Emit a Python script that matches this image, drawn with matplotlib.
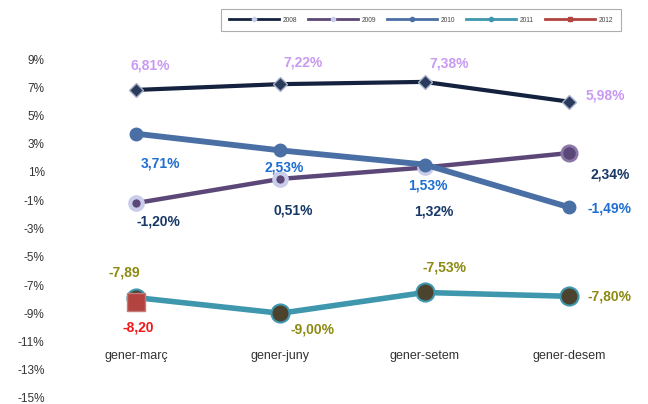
import matplotlib
matplotlib.use("Agg")
import matplotlib.pyplot as plt
from matplotlib.lines import Line2D

plt.rcParams['font.family'] = ['Liberation Sans', 'DejaVu Sans']

categories = ["gener-març", "gener-juny", "gener-setem", "gener-desem"]
s2008 = [6.81, 7.22, 7.38, 5.98]
s2009 = [-1.20, 0.51, 1.32, 2.34]
s2010 = [3.71, 2.53, 1.53, -1.49]
s2011 = [-7.89, -9.00, -7.53, -7.80]
s2012 = [-8.20]
yticks = [9, 7, 5, 3, 1, -1, -3, -5, -7, -9, -11, -13, -15]

fig = plt.figure(figsize=(6.48, 4.04), dpi=100)
ax = fig.add_axes([64/648, 1-398/404, 577/648, (398-59)/404])
ax.set_xlim(-0.5, 3.5)
ax.set_ylim(-15, 9)
for s in ax.spines.values():
    s.set_visible(False)
ax.set_xticks([])
ax.set_yticks(yticks)
ax.set_yticklabels([f"{v}%" for v in yticks], fontsize=8.5, color="#333333")
ax.tick_params(axis='y', length=0, pad=14)

x = list(range(len(categories)))

c08 = "#14223f"; c09 = "#5c4878"; c10 = "#4a6fa5"; c11 = "#3e97ad"; c12 = "#b3433f"

ax.plot(x, s2009, color=c09, lw=3.2, zorder=3)
ax.plot(x[:3], s2009[:3], 'o', color=c09, mec="#c9cdea", mew=3, ms=9, zorder=3.5)
ax.plot(x[3:], s2009[3:], 'o', color=c09, mec="#8a77a5", mew=2, ms=11, zorder=3.5)
ax.plot(x, s2010, color=c10, lw=4.2, zorder=4)
ax.plot(x, s2010, 'o', color=c10, ms=9, zorder=4.5)
ax.plot(x, s2008, color=c08, lw=3, zorder=3)
ax.plot(x, s2008, 'D', color="#2a3b5c", mec="#a6b0c8", mew=1, ms=7, zorder=4)
ax.plot(x, s2011, color=c11, lw=4, zorder=3)
ax.plot(x, s2011, 'o', color="#4c432e", mec=c11, mew=1.5, ms=13, zorder=4)
ax.plot(x[:1], s2012, 's', color=c12, mec="#c57b78", mew=1, ms=13, zorder=5)

def lab(xi, yi, t, dx, dy, color):
    ax.annotate(t, (xi, yi), xytext=(dx, dy), textcoords='offset pixels',
                ha='center', va='center', fontsize=10, fontweight='bold',
                color=color, zorder=6)

p08 = "#c99af2"
for i, (dx, dy) in enumerate([(14, 24), (23, 22), (25, 18), (36, 6)]):
    lab(i, s2008[i], f"{s2008[i]:.2f}%".replace('.', ','), dx, dy, p08)
b10 = "#1f6fd2"
for i, (dx, dy) in enumerate([(24, -30), (4, -17), (3, -21), (41, -1)]):
    lab(i, s2010[i], f"{s2010[i]:.2f}%".replace('.', ','), dx, dy, b10)
n09 = "#183866"
for i, (dx, dy) in enumerate([(22, -18), (13, -32), (9, -44), (41, -21)]):
    lab(i, s2009[i], f"{s2009[i]:.2f}%".replace('.', ','), dx, dy, n09)
o11 = "#8c8a12"
lab(0, s2011[0], "-7,89", -12, 25, o11)
for i, (dx, dy) in [(1, (32, -16)), (2, (20, 25)), (3, (41, 0))]:
    lab(i, s2011[i], f"{s2011[i]:.2f}%".replace('.', ','), dx, dy, o11)
lab(0, s2012[0], "-8,20", 2, -26, "#f01a1a")

for i, c in enumerate(categories):
    ax.text(i, -12.0, c, ha='center', va='center', fontsize=9, color="#333333")

handles = [
    Line2D([], [], color=c08, lw=2, marker='D', ms=2.5, mfc="#c9cdea", mec="#c9cdea"),
    Line2D([], [], color=c09, lw=2, marker='o', ms=3, mfc="#c9cdea", mec="#c9cdea"),
    Line2D([], [], color=c10, lw=2, marker='o', ms=3, mfc=c10),
    Line2D([], [], color=c11, lw=2, marker='o', ms=3, mfc=c11),
    Line2D([], [], color=c12, lw=2, marker='s', ms=3, mfc=c12),
]
leg = fig.legend(handles, ["2008", "2009", "2010", "2011", "2012"], ncol=5,
                 loc='center', bbox_to_anchor=(421/648, 1-20/404), fontsize=4.8,
                 handlelength=7.5, columnspacing=1.6, handletextpad=0.6,
                 frameon=True, fancybox=False, borderpad=1.1,
                 labelcolor="#444444")
leg.get_frame().set_edgecolor("#999999")
leg.get_frame().set_linewidth(0.8)

fig.savefig("out.png", dpi=100)
